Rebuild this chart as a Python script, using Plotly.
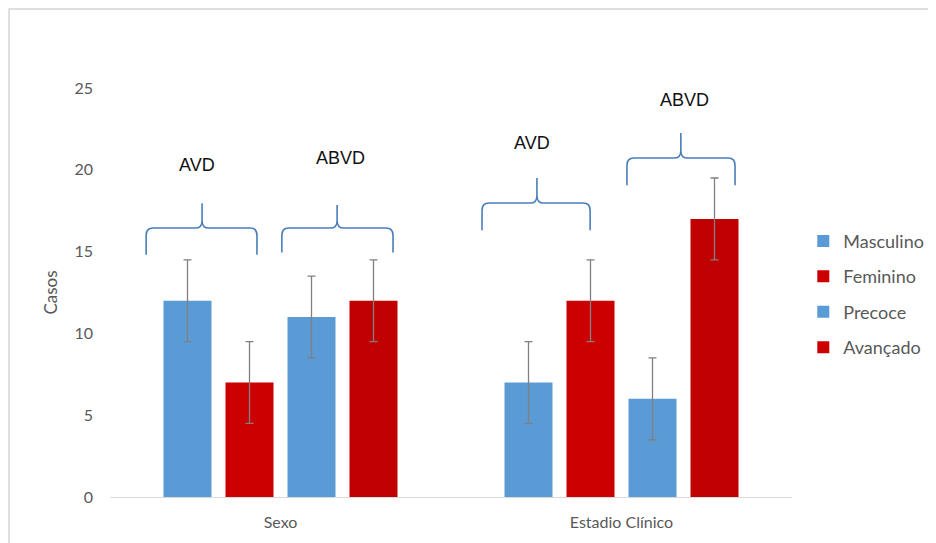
import plotly.graph_objects as go

# ---- data ----
categories = ["Sexo", "Estadio Clínico"]
treatments = ["AVD", "ABVD"]
masculino = [12, 11]     # Sexo: AVD, ABVD
feminino = [7, 12]       # Sexo: AVD, ABVD
precoce = [7, 6]         # Estadio Clínico: AVD, ABVD
avancado = [12, 17]      # Estadio Clínico: AVD, ABVD
err = [2.5, 2.5]

# ---- styling ----
BLUE = "#5B9BD5"
RED_AVD = "#CC0000"
RED_ABVD = "#C00000"
GRAY = "#595959"
BRACE = "#4A7EBB"

pitch = 62 / 341          # slot spacing in category units
bw = 48 / 341             # bar width in category units
slot_center = [(-1.5 + i) * pitch for i in range(4)]

series = [
    ("Masculino", categories[0], masculino, [0, 2], [BLUE, BLUE]),
    ("Feminino", categories[0], feminino, [1, 3], [RED_AVD, RED_ABVD]),
    ("Precoce", categories[1], precoce, [0, 2], [BLUE, BLUE]),
    ("Avançado", categories[1], avancado, [1, 3], [RED_AVD, RED_ABVD]),
]

fig = go.Figure()
for i, (name, cat, vals, slots, cols) in enumerate(series):
    fig.add_trace(go.Bar(
        name=name,
        x=[cat] * len(vals),
        y=vals,
        offset=[slot_center[s] - bw / 2 for s in slots],
        width=[bw] * len(vals),
        marker=dict(color=cols, line=dict(width=0)),
        error_y=dict(type="data", array=err, visible=True,
                     color="#808080", thickness=1.3, width=4),
        legendgroup=f"g{i}",
    ))

# curly braces over each pair of bars (category-index x, data y)
braces = [
    # x0, x1, xtip, y_end, y_mid, y_tip, label_x, label_y, label
    (-0.394, -0.069, -0.230, 14.8, 16.44, 17.95, -0.245, 20.3, treatments[0]),
    (0.004, 0.330, 0.166, 14.95, 16.44, 17.85, 0.177, 20.72, treatments[1]),
    (0.591, 0.908, 0.752, 16.3, 17.97, 19.5, 0.738, 21.64, treatments[0]),
    (1.016, 1.333, 1.174, 19.05, 20.72, 22.25, 1.186, 24.27, treatments[1]),
]
rx, ry = 0.02, 0.45
shapes = []
annotations = []
for x0, x1, xt, ye, ym, yt, lx, ly, lab in braces:
    path = (
        f"M{x0},{ye} L{x0},{ym - ry} Q{x0},{ym} {x0 + rx},{ym} "
        f"L{xt - rx},{ym} Q{xt},{ym} {xt},{ym + ry} L{xt},{yt} "
        f"M{xt},{ym + ry} Q{xt},{ym} {xt + rx},{ym} "
        f"L{x1 - rx},{ym} Q{x1},{ym} {x1},{ym - ry} L{x1},{ye}"
    )
    shapes.append(dict(type="path", xref="x", yref="y", path=path,
                       line=dict(color=BRACE, width=1.6)))
    annotations.append(dict(x=lx, y=ly, xref="x", yref="y", text=lab,
                            showarrow=False,
                            font=dict(family="Liberation Sans, Arial", size=18, color="#111111")))

# outer chart frame
shapes.append(dict(type="rect", xref="paper", yref="paper",
                   x0=-0.148, x1=1.3, y0=-0.3, y1=1.193,
                   line=dict(color="#D4D4D4", width=1.5), layer="below"))

# page body adds an 8px offset; margins compensate
fig.update_layout(
    width=928, height=535,
    margin=dict(l=102, r=144, t=80, b=46, autoexpand=False),
    paper_bgcolor="white", plot_bgcolor="white",
    barmode="overlay",
    font=dict(family="Lato, Noto Sans, sans-serif", color=GRAY),
    shapes=shapes,
    annotations=annotations,
    legend=dict(xref="container", yref="container",
                x=0.857, y=0.465, xanchor="left", yanchor="middle",
                font=dict(size=18, color=GRAY),
                traceorder="grouped", tracegroupgap=9,
                itemwidth=30),
    xaxis=dict(type="category", range=[-0.5, 1.5], showline=True,
               linecolor="#D9D9D9", linewidth=1, showgrid=False,
               ticks="", tickfont=dict(size=16, color=GRAY),
               ticklabelstandoff=11, automargin=False),
    yaxis=dict(range=[0, 25], dtick=5, showgrid=False, zeroline=False,
               showline=False, ticks="",
               tickfont=dict(size=16, color=GRAY),
               ticklabelstandoff=16, automargin=False,
               title=dict(text="Casos", font=dict(size=17, color=GRAY),
                          standoff=12)),
)

fig.write_html("out.html")
